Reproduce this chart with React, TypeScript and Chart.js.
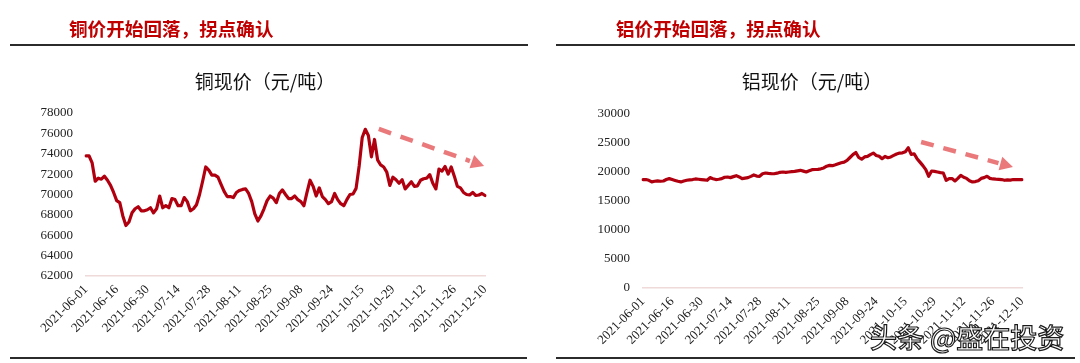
import React, { useEffect, useRef } from 'react';
import { Chart, registerables } from 'chart.js';

Chart.register(...registerables);

// ---------- data ----------
const HOLIDAYS = [
  '2021-06-14', '2021-09-20', '2021-09-21',
  '2021-10-01', '2021-10-04', '2021-10-05', '2021-10-06', '2021-10-07',
];
const START_DATE = '2021-06-01';
const END_DATE = '2021-12-10';

function buildTradingDays(start: string, end: string, holidays: string[]): string[] {
  const out: string[] = [];
  const d = new Date(start + 'T00:00:00Z');
  const e = new Date(end + 'T00:00:00Z');
  while (d.getTime() <= e.getTime()) {
    const wd = d.getUTCDay();
    const s = d.toISOString().slice(0, 10);
    if (wd !== 0 && wd !== 6 && !holidays.includes(s)) out.push(s);
    d.setUTCDate(d.getUTCDate() + 1);
  }
  return out;
}

const DATES = buildTradingDays(START_DATE, END_DATE, HOLIDAYS);

const X_TICK_LABELS = [
  '2021-06-01', '2021-06-16', '2021-06-30', '2021-07-14', '2021-07-28',
  '2021-08-11', '2021-08-25', '2021-09-08', '2021-09-24', '2021-10-15',
  '2021-10-29', '2021-11-12', '2021-11-26', '2021-12-10',
];

const COPPER = [
  73800, 73800, 73100, 71300, 71600, 71500, 71800, 71400, 70900, 70200,
  69400, 69200, 67900, 66950, 67300, 68200, 68600, 68800, 68400, 68400,
  68500, 68700, 68200, 68600, 69850, 68700, 68900, 68700, 69600, 69500,
  68900, 68900, 69700, 69300, 68400, 68600, 69000, 70000, 71300, 72700,
  72400, 71900, 71900, 71700, 71000, 70300, 69800, 69800, 69700, 70200,
  70400, 70500, 70550, 70100, 69300, 68100, 67400, 67900, 68600, 69400,
  69850, 69650, 69200, 70100, 70450, 70000, 69600, 69600, 69850, 69500,
  69300, 68900, 70200, 71400, 70800, 69850, 70650, 69800, 69500, 69100,
  69300, 70100, 69500, 69100, 68900, 69500, 70000, 70050, 70600, 72800,
  75600, 76400, 75800, 73700, 75400, 73400, 72900, 72700, 72200, 70900,
  71700, 71450, 71100, 71450, 70550, 70900, 71250, 70800, 70850, 71400,
  71550, 71600, 71950, 71100, 70550, 72500, 72300, 72750, 72000, 72700,
  71800, 70800, 70650, 70200, 70000, 69950, 70200, 69900, 69950, 70100,
  69900,
];

const ALUMINUM = [
  18700, 18700, 18570, 18300, 18400, 18460, 18400, 18450, 18700, 18860,
  18700, 18550, 18400, 18290, 18450, 18570, 18650, 18700, 18800, 18750,
  18700, 18650, 18570, 19030, 18850, 18700, 18750, 18850, 19100, 19140,
  19030, 19200, 19370, 19150, 18860, 18950, 19030, 19250, 19490, 19300,
  19260, 19700, 19830, 19750, 19710, 19700, 19800, 19950, 20000, 19950,
  20000, 20050, 20110, 20200, 20290, 20150, 20000, 20200, 20400, 20430,
  20460, 20550, 20700, 21000, 21140, 21090, 21250, 21430, 21600, 21710,
  22000, 22500, 23000, 23370, 22500, 22200, 22600, 22690, 23000, 23260,
  22860, 22700, 22290, 22690, 22460, 22600, 22860, 23100, 23260, 23300,
  23500, 24170, 23030, 23140, 22300, 21700, 21100, 20400, 19260, 20170,
  20100, 20000, 19900, 19830, 18570, 18860, 18860, 18460, 18900, 19430,
  19100, 18900, 18500, 18290, 18350, 18500, 18900, 19030, 19260, 18900,
  18800, 18760, 18740, 18700, 18570, 18650, 18600, 18700, 18700, 18680,
  18700,
];

const COPPER_HEADER = '铜价开始回落，拐点确认';
const ALUMINUM_HEADER = '铝价开始回落，拐点确认';
const COPPER_TITLE = '铜现价（元/吨）';
const ALUMINUM_TITLE = '铝现价（元/吨）';
const WATERMARK = '头条 @盛在投资';

const COPPER_Y = { min: 62000, max: 78000, step: 2000 };
const ALUMINUM_Y = { min: 0, max: 30000, step: 5000 };

// trend arrows in data units: [category index, value]
const COPPER_ARROW = { from: [95.4, 76430], to: [129.7, 72800] };
const ALUMINUM_ARROW = { from: [95.4, 25170], to: [126.9, 20860] };

// ---------- styling ----------
const LINE_COLOR = '#B0000F';
const ARROW_COLOR = 'rgba(232, 110, 112, 0.92)';
const HEADER_COLOR = '#C00000';
const AXIS_COLOR = '#F0D9D9';
const TICK_COLOR = '#222222';
const SERIF = "'Liberation Serif', 'DejaVu Serif', serif";
const CJK = "'Noto Sans CJK SC', 'Noto Sans', sans-serif";

const W = 540;
const H = 363;

const arrowPlugin = {
  id: 'trendArrow',
  afterDatasetsDraw(chart: any, _args: any, opts: any) {
    const a = opts && opts.arrow;
    if (!a) return;
    const xs = chart.scales.x;
    const ys = chart.scales.y;
    const x1 = xs.getPixelForValue(a.from[0]);
    const y1 = ys.getPixelForValue(a.from[1]);
    const x2 = xs.getPixelForValue(a.to[0]);
    const y2 = ys.getPixelForValue(a.to[1]);
    const ang = Math.atan2(y2 - y1, x2 - x1);
    const headLen = 13;
    const headHalf = 7;
    const bx = x2 - headLen * Math.cos(ang);
    const by = y2 - headLen * Math.sin(ang);
    const ctx = chart.ctx;
    ctx.save();
    ctx.strokeStyle = ARROW_COLOR;
    ctx.fillStyle = ARROW_COLOR;
    ctx.lineWidth = 4.5;
    ctx.setLineDash([13, 10]);
    ctx.beginPath();
    ctx.moveTo(x1, y1);
    ctx.lineTo(bx - 2 * Math.cos(ang), by - 2 * Math.sin(ang));
    ctx.stroke();
    ctx.setLineDash([]);
    ctx.beginPath();
    ctx.moveTo(x2, y2);
    ctx.lineTo(bx + headHalf * Math.sin(ang), by - headHalf * Math.cos(ang));
    ctx.lineTo(bx - headHalf * Math.sin(ang), by + headHalf * Math.cos(ang));
    ctx.closePath();
    ctx.fill();
    ctx.restore();
  },
};

type Area = { left: number; right: number; top: number; bottom: number };

function PriceChart(props: {
  values: number[];
  yRange: { min: number; max: number; step: number };
  area: Area;
  arrow: { from: number[]; to: number[] };
  label: string;
}) {
  const ref = useRef<HTMLCanvasElement | null>(null);
  useEffect(() => {
    if (!ref.current) return;
    const { values, yRange, area, arrow, label } = props;
    const chart = new Chart(ref.current, {
      type: 'line',
      data: {
        labels: DATES,
        datasets: [
          {
            label,
            data: values,
            borderColor: LINE_COLOR,
            backgroundColor: LINE_COLOR,
            borderWidth: 3.2,
            pointRadius: 0,
            tension: 0,
            borderCapStyle: 'round',
            borderJoinStyle: 'round',
            fill: false,
          },
        ],
      },
      options: {
        animation: false,
        responsive: false,
        devicePixelRatio: 1,
        layout: {
          padding: { left: 0, top: area.top, right: W - area.right, bottom: 0 },
        },
        plugins: {
          legend: { display: false },
          tooltip: { enabled: false },
          title: { display: false },
          trendArrow: { arrow },
        } as any,
        scales: {
          x: {
            type: 'category',
            offset: false,
            grid: { display: false, drawTicks: false },
            border: { display: true, color: AXIS_COLOR, width: 1.5 },
            ticks: {
              autoSkip: false,
              minRotation: 45,
              maxRotation: 45,
              padding: 6,
              color: TICK_COLOR,
              font: { family: SERIF, size: 13 },
              callback: (_v: any, i: number) =>
                X_TICK_LABELS.includes(DATES[i]) ? DATES[i] : null,
            },
            afterFit: (s: any) => {
              s.height = H - area.bottom;
            },
          },
          y: {
            type: 'linear',
            min: yRange.min,
            max: yRange.max,
            grid: { display: false, drawTicks: false },
            border: { display: false },
            ticks: {
              stepSize: yRange.step,
              padding: 13,
              color: TICK_COLOR,
              font: { family: SERIF, size: 13 },
              callback: (v: any) => String(v),
            },
            afterFit: (s: any) => {
              s.width = area.left;
            },
          },
        },
      } as any,
      plugins: [arrowPlugin as any],
    });
    return () => chart.destroy();
  }, []);
  return <canvas ref={ref} width={W} height={H} style={{ width: W, height: H, display: 'block' }} />;
}

const rule = (left: number, top: number, width: number): React.CSSProperties => ({
  position: 'absolute',
  left,
  top,
  width,
  height: 2,
  background: '#2b2b2b',
});

export default function App() {
  return (
    <div
      style={{
        position: 'absolute',
        left: 0,
        top: 0,
        width: 1080,
        height: 363,
        background: '#ffffff',
        overflow: 'hidden',
      }}
    >
      <div style={{ position: 'absolute', left: 0, top: 0 }}>
        <PriceChart
          values={COPPER}
          yRange={COPPER_Y}
          area={{ left: 86, right: 485, top: 113, bottom: 276 }}
          arrow={COPPER_ARROW}
          label={COPPER_TITLE}
        />
      </div>
      <div style={{ position: 'absolute', left: 540, top: 0 }}>
        <PriceChart
          values={ALUMINUM}
          yRange={ALUMINUM_Y}
          area={{ left: 103, right: 482, top: 114, bottom: 288 }}
          arrow={ALUMINUM_ARROW}
          label={ALUMINUM_TITLE}
        />
      </div>

      <div
        style={{
          position: 'absolute',
          left: 69,
          top: 18,
          fontFamily: CJK,
          fontWeight: 700,
          fontSize: 18.6,
          lineHeight: '20px',
          color: HEADER_COLOR,
          whiteSpace: 'nowrap',
        }}
      >
        {COPPER_HEADER}
      </div>
      <div
        style={{
          position: 'absolute',
          left: 616,
          top: 18,
          fontFamily: CJK,
          fontWeight: 700,
          fontSize: 18.6,
          lineHeight: '20px',
          color: HEADER_COLOR,
          whiteSpace: 'nowrap',
        }}
      >
        {ALUMINUM_HEADER}
      </div>

      <div style={rule(10, 44, 518)} />
      <div style={rule(556, 44, 519)} />
      <div style={rule(10, 357, 517)} />
      <div style={rule(556, 357, 519)} />

      <div
        style={{
          position: 'absolute',
          left: 165,
          width: 200,
          top: 71,
          textAlign: 'center',
          fontFamily: CJK,
          fontSize: 19,
          lineHeight: '20px',
          color: '#111',
          whiteSpace: 'nowrap',
        }}
      >
        {COPPER_TITLE}
      </div>
      <div
        style={{
          position: 'absolute',
          left: 712,
          width: 200,
          top: 71,
          textAlign: 'center',
          fontFamily: CJK,
          fontSize: 19,
          lineHeight: '20px',
          color: '#111',
          whiteSpace: 'nowrap',
        }}
      >
        {ALUMINUM_TITLE}
      </div>

      <div
        style={{
          position: 'absolute',
          left: 870,
          top: 322,
          fontFamily: CJK,
          fontSize: 27,
          lineHeight: '30px',
          fontWeight: 500,
          color: '#ffffff',
          WebkitTextStroke: '1.2px #1a1a1a',
          whiteSpace: 'nowrap',
        }}
      >
        {WATERMARK}
      </div>
    </div>
  );
}
